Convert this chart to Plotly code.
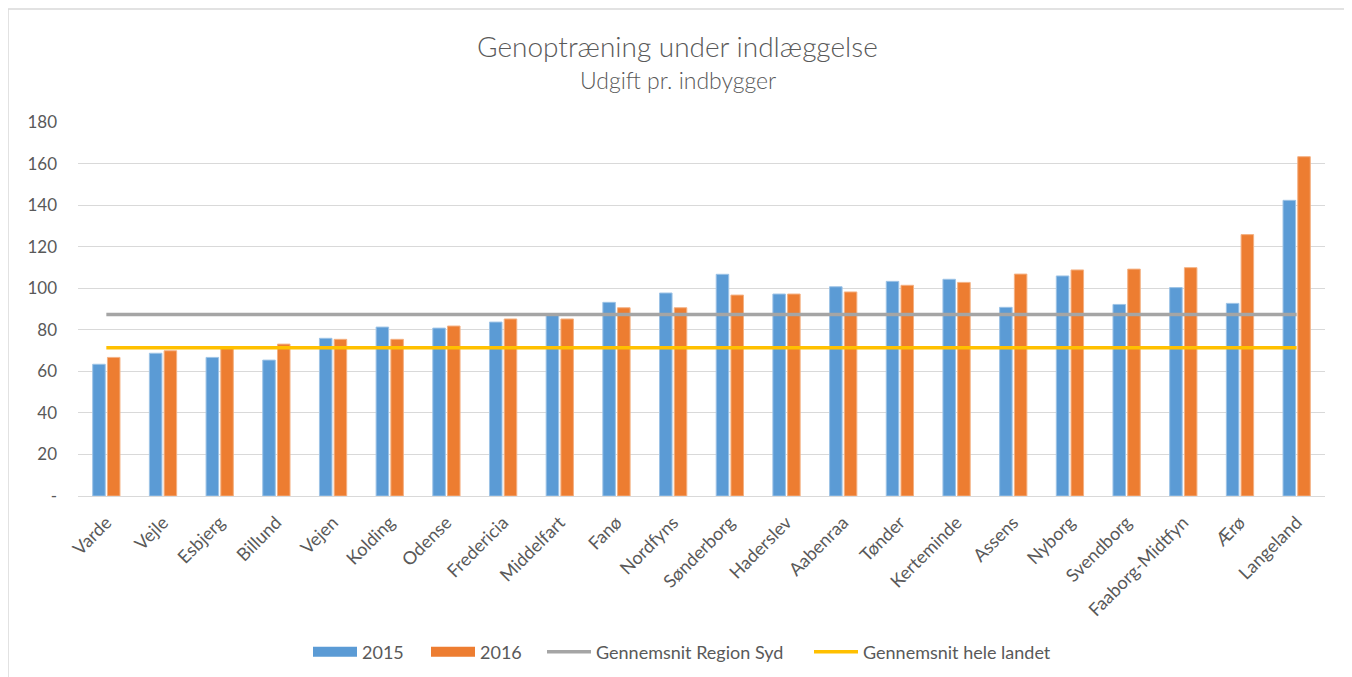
import plotly.graph_objects as go

categories = ["Varde", "Vejle", "Esbjerg", "Billund", "Vejen", "Kolding", "Odense",
              "Fredericia", "Middelfart", "Fanø", "Nordfyns", "Sønderborg", "Haderslev",
              "Aabenraa", "Tønder", "Kerteminde", "Assens", "Nyborg", "Svendborg",
              "Faaborg-Midtfyn", "Ærø", "Langeland"]
v2015 = [63.4, 68.7, 66.7, 65.4, 75.9, 81.3, 80.8, 83.7, 87.0, 93.2, 97.7, 106.7, 97.2,
         100.7, 103.3, 104.3, 90.8, 105.9, 92.2, 100.3, 92.7, 142.3]
v2016 = [66.7, 69.9, 71.5, 73.1, 75.4, 75.4, 81.8, 85.2, 85.2, 90.6, 90.6, 96.7, 97.2,
         98.2, 101.4, 102.8, 106.8, 108.8, 109.2, 109.9, 125.8, 163.3]
avg_region_syd = 87.4
avg_hele_landet = 71.4
ytick_vals = [0, 20, 40, 60, 80, 100, 120, 140, 160, 180]
ytick_text = ["-", "20", "40", "60", "80", "100", "120", "140", "160", "180"]

FONT = "Lato, 'Open Sans', sans-serif"
TXT = "#595959"
BLUE, ORANGE, GREY, YELLOW = "#5B9BD5", "#ED7D31", "#A5A5A5", "#FFC000"

# figure sits 8px inside the page (browser body margin)
W, H = 1344, 669
L, R, T, B = 70, 27, 114, 181
PW, PH = W - L - R, H - T - B


def px(xf):
    return (xf - L) / PW


def py(yf):
    return (H - B - yf) / PH


fig = go.Figure()
fig.add_trace(go.Bar(x=categories, y=v2015, name="2015", marker_color=BLUE,
                     marker_line=dict(color="#9DC3E6", width=1), showlegend=False))
fig.add_trace(go.Bar(x=categories, y=v2016, name="2016", marker_color=ORANGE,
                     marker_line=dict(color="#F4B183", width=1), showlegend=False))
fig.add_trace(go.Scatter(x=categories, y=[avg_region_syd] * len(categories), mode="lines",
                         name="Gennemsnit Region Syd", line=dict(color=GREY, width=3.5),
                         legend="legend3"))
fig.add_trace(go.Scatter(x=categories, y=[avg_hele_landet] * len(categories), mode="lines",
                         name="Gennemsnit hele landet", line=dict(color=YELLOW, width=3.5),
                         legend="legend4"))
# legend proxies for the bar series (wide flat swatches like the original)
fig.add_trace(go.Scatter(x=[None], y=[None], mode="lines", name="2015",
                         line=dict(color=BLUE, width=10), legend="legend"))
fig.add_trace(go.Scatter(x=[None], y=[None], mode="lines", name="2016",
                         line=dict(color=ORANGE, width=10), legend="legend2"))


def leg(xf):
    return dict(orientation="h", xref="container", yref="container",
                x=xf / W, xanchor="left", y=(H - 644) / H, yanchor="middle",
                font=dict(size=18, color=TXT, family=FONT), itemwidth=44,
                bgcolor="rgba(0,0,0,0)", borderwidth=0)


fig.update_layout(
    width=W, height=H,
    margin=dict(l=L, r=R, t=T, b=B, autoexpand=False),
    paper_bgcolor="white", plot_bgcolor="white",
    font=dict(family=FONT, color=TXT, size=17),
    barmode="group", bargap=0.48, bargroupgap=0.15,
    showlegend=True,
    legend=leg(300), legend2=leg(418), legend3=leg(534), legend4=leg(801),
    xaxis=dict(tickangle=-45, showgrid=False, showline=True, linecolor="#D9D9D9",
               linewidth=1, ticks="", ticklabelstandoff=8, automargin=False,
               tickfont=dict(size=18, color=TXT)),
    yaxis=dict(range=[0, 180], tickvals=ytick_vals, ticktext=ytick_text,
               gridcolor="#D9D9D9", gridwidth=1, zeroline=False, showline=False,
               ticklabelstandoff=20, automargin=False, tickfont=dict(size=17, color=TXT)),
    annotations=[
        dict(text="Genoptræning under indlæggelse", xref="paper", yref="paper",
             x=0.481, y=py(38), showarrow=False,
             font=dict(size=28, color=TXT, family=FONT, weight=300),
             xanchor="center", yanchor="middle"),
        dict(text="Udgift pr. indbygger", xref="paper", yref="paper",
             x=0.481, y=py(72), showarrow=False,
             font=dict(size=23, color=TXT, family=FONT, weight=300),
             xanchor="center", yanchor="middle"),
    ],
    shapes=[dict(type="rect", xref="paper", yref="paper",
                 x0=px(0), x1=px(1339), y0=py(700), y1=py(1),
                 line=dict(color="#D9D9D9", width=1.5), fillcolor="rgba(0,0,0,0)",
                 layer="below")],
)

fig.write_html("out.html")
